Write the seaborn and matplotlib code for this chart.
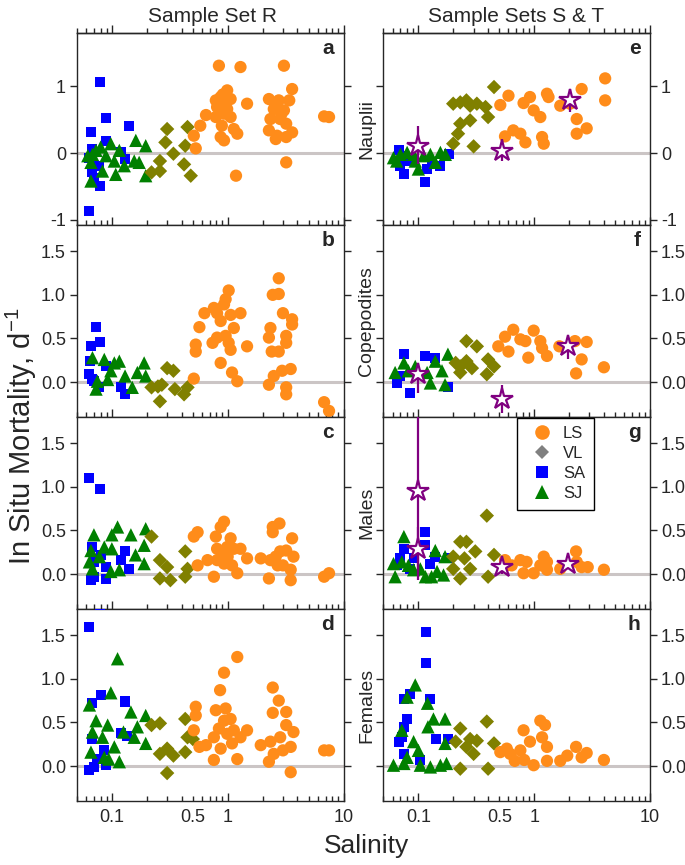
import numpy as np
import pandas
import seaborn
import matplotlib
matplotlib.use('Agg')
from matplotlib import pyplot
from matplotlib.lines import Line2D
from matplotlib.ticker import FixedLocator, FuncFormatter, NullFormatter, LogLocator

# (salinity, in situ mortality d-1), one list per panel and site
a_SA = [(0.079, 1.06), (0.089, 0.53), (0.066, 0.32), (0.141, 0.41), (0.089, 0.18), (0.068, 0.06), (0.064, -0.07),
        (0.12, 0.01), (0.13, -0.09), (0.068, -0.29), (0.07, -0.37), (0.079, -0.49), (0.078, -0.19), (0.064, -0.87)]
a_SJ = [(0.062, -0.04), (0.068, -0.02), (0.073, 0.04), (0.066, -0.14), (0.080, 0.09), (0.098, 0.14), (0.089, -0.04),
        (0.105, -0.12), (0.116, 0.04), (0.083, -0.27), (0.108, -0.32), (0.128, -0.19), (0.161, 0.19), (0.196, 0.11),
        (0.156, -0.12), (0.172, -0.14), (0.196, -0.34), (0.066, -0.42)]
a_VL = [(0.30, 0.36), (0.45, 0.39), (0.29, 0.16), (0.43, 0.11), (0.34, -0.01), (0.26, -0.12), (0.22, -0.29),
        (0.26, -0.27), (0.42, -0.17), (0.48, -0.34)]
a_LS = [(0.53, 0.07), (0.51, 0.26), (0.58, 0.41), (0.65, 0.57), (0.79, 0.54), (0.84, 1.31), (1.29, 1.29), (3.06, 1.31),
        (3.6, 0.96), (0.99, 0.94), (0.87, 0.84), (0.79, 0.79), (1.06, 0.81), (0.81, 0.69), (0.99, 0.66), (0.93, 0.59),
        (1.06, 0.54), (0.89, 0.41), (1.13, 0.36), (1.21, 0.29), (0.87, 0.24), (0.93, 0.19), (1.47, 0.74), (2.27, 0.81),
        (2.76, 0.79), (3.4, 0.79), (2.5, 0.66), (3.06, 0.64), (2.34, 0.51), (2.84, 0.51), (3.2, 0.44), (2.27, 0.34),
        (2.67, 0.26), (3.6, 0.31), (3.2, 0.24), (2.6, 0.21), (3.2, -0.14), (1.18, -0.34), (6.8, 0.55), (7.5, 0.54),
        (0.91, 0.88), (0.95, 0.76), (0.85, 0.72), (2.6, 0.72), (2.9, 0.58)]

b_SA = [(0.073, 0.63), (0.066, 0.41), (0.079, 0.46), (0.089, 0.18), (0.12, -0.06), (0.13, -0.14), (0.078, -0.06),
        (0.064, 0.09), (0.07, 0.01), (0.065, 0.24), (0.068, 0.04)]
b_SJ = [(0.068, 0.28), (0.086, 0.26), (0.105, 0.22), (0.116, 0.24), (0.098, 0.13), (0.15, -0.06), (0.19, 0.22),
        (0.196, 0.07), (0.166, 0.11), (0.13, 0.07), (0.075, 0.01), (0.092, 0.03), (0.073, -0.08)]
b_VL = [(0.30, 0.16), (0.34, 0.13), (0.27, -0.03), (0.25, -0.05), (0.22, -0.06), (0.45, -0.06), (0.42, -0.14),
        (0.26, -0.22), (0.35, -0.08)]
b_LS = [(0.51, 0.04), (0.53, 0.43), (0.53, 0.35), (0.57, 0.63), (0.63, 0.79), (0.76, 0.85), (0.81, 0.79), (0.87, 0.70),
        (0.93, 0.89), (0.96, 0.95), (1.02, 1.05), (1.06, 0.77), (1.29, 0.79), (0.74, 0.45), (0.81, 0.51), (0.96, 0.53),
        (1.13, 0.62), (1.02, 0.45), (1.06, 0.37), (0.87, 0.22), (1.09, 0.11), (1.21, 0.01), (1.47, 0.41), (2.45, 1.0),
        (2.76, 1.01), (2.76, 1.19), (3.0, 0.79), (3.6, 0.72), (3.6, 0.66), (2.34, 0.62), (2.27, 0.51), (3.2, 0.53),
        (3.2, 0.45), (2.4, 0.35), (2.76, 0.35), (3.5, 0.15), (2.95, 0.13), (2.5, 0.07), (2.27, -0.03), (3.2, -0.06),
        (3.2, -0.14), (6.8, -0.23), (7.5, -0.33)]

c_SA = [(0.064, 1.10), (0.079, 0.98), (0.068, 0.31), (0.08, 0.22), (0.07, 0.14), (0.089, 0.08), (0.13, 0.26),
        (0.12, 0.16), (0.141, 0.06), (0.066, -0.07), (0.089, -0.06), (0.07, -0.03)]
c_SJ = [(0.07, 0.45), (0.066, 0.27), (0.064, 0.14), (0.068, 0.06), (0.086, 0.31), (0.10, 0.29), (0.112, 0.54),
        (0.10, 0.45), (0.146, 0.45), (0.196, 0.52), (0.19, 0.33), (0.16, 0.22), (0.19, 0.12), (0.098, 0.03),
        (0.116, 0.05), (0.078, 0.20)]
c_VL = [(0.22, 0.43), (0.26, 0.16), (0.30, 0.08), (0.26, -0.05), (0.32, -0.07), (0.43, 0.26), (0.45, 0.06),
        (0.43, -0.03)]
c_LS = [(0.51, 0.43), (0.55, 0.48), (0.79, 0.43), (0.87, 0.54), (0.93, 0.60), (1.06, 0.41), (0.81, 0.29), (0.99, 0.31),
        (1.13, 0.29), (1.29, 0.29), (1.47, 0.18), (0.55, 0.10), (0.67, 0.16), (0.81, 0.16), (0.93, 0.12), (1.09, 0.10),
        (0.76, -0.03), (1.21, 0.01), (2.45, 0.54), (2.8, 0.58), (2.45, 0.48), (3.6, 0.41), (1.93, 0.18), (2.34, 0.16),
        (2.84, 0.26), (3.2, 0.27), (3.7, 0.20), (3.0, 0.10), (3.5, 0.05), (2.27, -0.05), (3.5, -0.07), (6.8, -0.03),
        (7.5, 0.01), (0.9, 0.22), (1.0, 0.20), (2.6, 0.20), (2.7, 0.10)]

d_SA = [(0.079, 1.85), (0.064, 1.59), (0.068, 0.72), (0.08, 0.81), (0.13, 0.74), (0.12, 0.38), (0.136, 0.35),
        (0.086, 0.18), (0.068, 0.31), (0.064, -0.05), (0.07, -0.01), (0.089, 0.01), (0.075, 0.08)]
d_SJ = [(0.112, 1.23), (0.098, 0.84), (0.064, 0.70), (0.073, 0.52), (0.068, 0.39), (0.092, 0.47), (0.083, 0.33),
        (0.146, 0.62), (0.196, 0.58), (0.166, 0.45), (0.156, 0.33), (0.196, 0.26), (0.126, 0.39), (0.105, 0.22),
        (0.066, 0.16), (0.094, 0.08), (0.116, 0.05), (0.086, 0.10)]
d_VL = [(0.22, 0.47), (0.26, 0.49), (0.26, 0.14), (0.30, 0.20), (0.34, 0.12), (0.30, -0.08), (0.43, 0.54),
        (0.45, 0.33), (0.43, 0.16), (0.50, 0.31)]
d_LS = [(0.51, 0.41), (0.53, 0.68), (0.53, 0.58), (0.57, 0.22), (0.65, 0.24), (0.76, 0.07), (0.79, 0.64), (0.86, 0.87),
        (0.93, 1.07), (1.21, 1.25), (0.96, 0.66), (1.06, 0.54), (0.76, 0.33), (0.84, 0.43), (0.93, 0.52), (0.99, 0.37),
        (1.09, 0.26), (0.87, 0.20), (1.21, 0.08), (1.29, 0.33), (1.47, 0.41), (1.13, 0.41), (2.45, 0.90), (2.76, 0.75),
        (2.45, 0.61), (3.2, 0.62), (1.93, 0.24), (2.34, 0.28), (2.5, 0.14), (2.27, 0.05), (2.84, 0.33), (3.2, 0.47),
        (3.7, 0.39), (3.5, 0.22), (3.0, 0.18), (3.5, -0.07), (6.8, 0.18), (7.5, 0.18)]

e_SA = [(0.068, 0.04), (0.075, -0.04), (0.075, -0.32), (0.085, -0.12), (0.115, -0.44), (0.119, -0.24), (0.131, -0.14),
        (0.155, -0.19), (0.183, -0.02), (0.070, -0.19)]
e_SJ = [(0.061, -0.07), (0.070, -0.02), (0.080, 0.01), (0.091, -0.02), (0.10, -0.24), (0.111, -0.04), (0.127, -0.02),
        (0.14, -0.14), (0.155, 0.01), (0.171, -0.02), (0.094, -0.12), (0.065, -0.12)]
e_VL = [(0.45, 0.99), (0.20, 0.74), (0.23, 0.76), (0.26, 0.79), (0.28, 0.71), (0.32, 0.74), (0.38, 0.69), (0.40, 0.54),
        (0.28, 0.49), (0.23, 0.44), (0.22, 0.29), (0.20, 0.14), (0.30, 0.10)]
e_LS = [(0.51, 0.72), (0.60, 0.86), (0.81, 0.75), (0.92, 0.84), (0.99, 0.64), (1.13, 0.54), (1.29, 0.89), (1.33, 0.84),
        (1.68, 0.71), (2.04, 0.74), (2.57, 0.96), (4.1, 1.12), (4.1, 0.79), (2.33, 0.51), (2.33, 0.29), (2.84, 0.37),
        (0.56, 0.25), (0.66, 0.34), (0.76, 0.29), (0.84, 0.16), (1.17, 0.24), (1.21, 0.14)]

f_SA = [(0.075, 0.32), (0.115, 0.30), (0.14, 0.28), (0.065, -0.01), (0.085, -0.13), (0.18, -0.06), (0.07, 0.07)]
f_SJ = [(0.063, 0.11), (0.075, 0.22), (0.082, 0.13), (0.094, 0.18), (0.119, 0.11), (0.14, 0.24), (0.18, 0.32),
        (0.16, 0.13), (0.127, -0.01), (0.17, -0.03)]
f_VL = [(0.26, 0.47), (0.32, 0.41), (0.21, 0.22), (0.23, 0.18), (0.26, 0.24), (0.29, 0.16), (0.23, 0.11), (0.40, 0.26),
        (0.45, 0.18), (0.39, 0.09)]
f_LS = [(0.49, 0.41), (0.56, 0.52), (0.60, 0.35), (0.66, 0.60), (0.76, 0.49), (0.84, 0.47), (0.99, 0.59), (0.89, 0.28),
        (1.13, 0.47), (1.17, 0.39), (1.29, 0.30), (2.25, 0.47), (2.84, 0.46), (2.57, 0.26), (2.3, 0.10), (4.0, 0.17),
        (1.65, 0.41)]

g_SA = [(0.115, 0.48), (0.075, 0.29), (0.115, 0.33), (0.07, 0.18), (0.091, 0.18), (0.14, 0.20), (0.18, 0.18),
        (0.127, 0.12), (0.065, 0.10), (0.085, 0.06)]
g_SJ = [(0.075, 0.43), (0.061, 0.12), (0.072, 0.14), (0.082, 0.10), (0.091, 0.05), (0.063, -0.03), (0.115, -0.03),
        (0.13, -0.03), (0.14, 0.27), (0.145, 0.03), (0.17, 0.20), (0.165, -0.01), (0.104, 0.06)]
g_VL = [(0.39, 0.67), (0.23, 0.37), (0.26, 0.37), (0.31, 0.26), (0.20, 0.20), (0.25, 0.18), (0.45, 0.22), (0.28, 0.06),
        (0.20, 0.06), (0.23, -0.05), (0.40, -0.03)]
g_LS = [(0.56, 0.16), (0.64, 0.10), (0.76, 0.16), (0.86, 0.14), (0.81, 0.01), (0.99, 0.01), (1.13, 0.10), (1.21, 0.20),
        (1.29, 0.14), (1.29, 0.05), (1.68, 0.06), (2.3, 0.26), (2.33, 0.14), (2.57, 0.08), (2.9, 0.08), (4.0, 0.05),
        (0.58, 0.10)]

h_SA = [(0.117, 1.54), (0.116, 1.18), (0.075, 0.77), (0.085, 0.83), (0.127, 0.77), (0.08, 0.54), (0.075, 0.45),
        (0.072, 0.33), (0.068, 0.28), (0.143, 0.31), (0.18, 0.31), (0.104, 0.07), (0.075, 0.14)]
h_SJ = [(0.094, 0.93), (0.08, 0.79), (0.12, 0.72), (0.135, 0.54), (0.17, 0.54), (0.121, 0.45), (0.072, 0.41),
        (0.091, 0.28), (0.1, 0.18), (0.08, 0.10), (0.061, 0.01), (0.075, 0.03), (0.104, 0.01), (0.127, -0.01),
        (0.155, 0.01), (0.175, 0.03), (0.17, 0.26)]
h_VL = [(0.23, 0.43), (0.28, 0.31), (0.32, 0.29), (0.21, 0.28), (0.30, 0.14), (0.23, -0.03), (0.39, 0.51), (0.45, 0.26),
        (0.40, -0.03), (0.26, 0.22)]
h_LS = [(0.51, 0.16), (0.58, 0.20), (0.62, 0.14), (0.68, 0.06), (0.76, 0.18), (0.81, 0.41), (0.82, 0.07), (0.92, 0.28),
        (0.99, 0.01), (1.13, 0.52), (1.24, 0.47), (1.17, 0.33), (1.29, 0.22), (1.29, 0.06), (1.68, 0.06), (1.93, 0.12),
        (2.3, 0.22), (2.57, 0.10), (2.84, 0.15), (4.0, 0.07)]

# Sample sets S & T means (stars) with lower / upper error
e_ST = {'x': [0.1, 0.53, 2.02], 'y': [0.10, 0.03, 0.80], 'lo': [0.26, 0.15, 0.19], 'hi': [0.30, 0.18, 0.16]}
f_ST = {'x': [0.1, 0.53, 1.95], 'y': [0.09, -0.19, 0.41], 'lo': [0.22, 0.16, 0.14], 'hi': [0.10, 0.16, 0.10]}
g_ST = {'x': [0.1, 0.1, 0.53, 1.95], 'y': [0.95, 0.29, 0.08, 0.12], 'lo': [1.02, 0.25, 0.08, 0.06], 'hi': [1.05, 0.25, 0.06, 0.06]}

SITES = ['SA', 'SJ', 'VL', 'LS']
COLORS = {'LS': '#ff8c1a', 'VL': '#808000', 'SA': '#0000ff', 'SJ': '#008000'}
MARKERS = {'LS': 'o', 'VL': 'D', 'SA': 's', 'SJ': '^'}
SIZES = {'LS': 78, 'VL': 54, 'SA': 52, 'SJ': 92}

panels = [
    ('a', (a_SA, a_SJ, a_VL, a_LS), None, None),
    ('e', (e_SA, e_SJ, e_VL, e_LS), e_ST, 'Nauplii'),
    ('b', (b_SA, b_SJ, b_VL, b_LS), None, None),
    ('f', (f_SA, f_SJ, f_VL, f_LS), f_ST, 'Copepodites'),
    ('c', (c_SA, c_SJ, c_VL, c_LS), None, None),
    ('g', (g_SA, g_SJ, g_VL, g_LS), g_ST, 'Males'),
    ('d', (d_SA, d_SJ, d_VL, d_LS), None, None),
    ('h', (h_SA, h_SJ, h_VL, h_LS), None, 'Females'),
]


def panel_frame(groups):
    rows = []
    for site, points in zip(SITES, groups):
        rows += [(x, y, site) for x, y in points]
    return pandas.DataFrame(rows, columns=['salinity', 'mortality', 'site'])


def salinity_label(value, pos):
    return f'{value:g}' if abs(value - 0.5) < 1e-6 or value in (0.1, 1, 10) else ''


seaborn.set_style('ticks')
pyplot.rcParams['font.family'] = ['Liberation Sans', 'DejaVu Sans']
pyplot.rcParams['mathtext.fontset'] = 'custom'
pyplot.rcParams['mathtext.rm'] = 'Liberation Sans'
pyplot.rcParams['axes.unicode_minus'] = False
pyplot.rcParams['axes.linewidth'] = 1.0

fig, axes = pyplot.subplots(4, 2, figsize=(6.85, 8.65), dpi=100)
fig.subplots_adjust(left=0.1124, right=0.9489, top=0.9618, bottom=0.074, hspace=0, wspace=0.15)

for idx, (letter, groups, stars, row_label) in enumerate(panels):
    row, col = divmod(idx, 2)
    ax = axes[row, col]
    data_frame = panel_frame(groups)
    ax.axhline(0, color='#cbc5c5', lw=2.2, zorder=1)
    seaborn.scatterplot(data=data_frame, x='salinity', y='mortality', hue='site', style='site', size='site',
                        palette=COLORS, markers=MARKERS, sizes=SIZES, linewidth=0, alpha=1, legend=False, ax=ax, zorder=3)
    if stars is not None:
        ax.errorbar(stars['x'], stars['y'], yerr=[stars['lo'], stars['hi']], fmt='*', ms=16, mfc='white',
                    mec='#800080', mew=1.6, ecolor='#800080', elinewidth=1.6, capsize=0, zorder=4)

    ax.set_xscale('log')
    ax.set_xlim(0.05, 10)
    if row == 0:
        ax.set_ylim(-1.08, 1.8)
        ax.set_yticks([-1, 0, 1])
        ax.yaxis.set_major_formatter(FuncFormatter(lambda v, p: f'{v:.0f}'))
    else:
        ax.set_ylim(-0.4, 1.8)
        ax.set_yticks([0, 0.5, 1.0, 1.5])
        ax.yaxis.set_major_formatter(FuncFormatter(lambda v, p: f'{v:.1f}'))

    ax.xaxis.set_major_locator(FixedLocator([0.1, 1, 10]))
    ax.xaxis.set_minor_locator(LogLocator(base=10, subs=np.arange(2, 10) * 1.0, numticks=20))
    ax.xaxis.set_major_formatter(FuncFormatter(salinity_label))
    ax.xaxis.set_minor_formatter(FuncFormatter(salinity_label))
    ax.tick_params(axis='x', which='major', direction='in', length=6, width=1, labelsize=13, pad=6,
                   bottom=True, top=False, labelbottom=(row == 3))
    ax.tick_params(axis='x', which='minor', direction='in', length=3.5, width=1, labelsize=13, pad=6,
                   bottom=True, top=False, labelbottom=(row == 3))
    ax.tick_params(axis='y', direction='out', length=5, width=1, labelsize=13, left=True, right=True,
                   labelleft=(col == 0), labelright=(col == 1), pad=3)
    if row == 0:
        top = ax.secondary_xaxis('top')
        top.xaxis.set_major_locator(FixedLocator([0.1, 1, 10]))
        top.xaxis.set_minor_locator(LogLocator(base=10, subs=np.arange(2, 10) * 1.0, numticks=20))
        top.xaxis.set_major_formatter(NullFormatter())
        top.xaxis.set_minor_formatter(NullFormatter())
        top.tick_params(axis='x', which='major', direction='out', length=6, width=1)
        top.tick_params(axis='x', which='minor', direction='out', length=3.5, width=1)

    ax.set_xlabel('')
    if row_label:
        ax.set_ylabel(row_label, fontsize=14, labelpad=1)
    else:
        ax.set_ylabel('')
    ax.text(0.965, 0.92, letter, transform=ax.transAxes, ha='right', va='center', fontsize=15, fontweight='bold')

legend_handles = [
    Line2D([], [], ls='none', marker='o', markersize=10.5, color=COLORS['LS'], mew=0, label='LS'),
    Line2D([], [], ls='none', marker='D', markersize=7.5, color='#808080', mew=0, label='VL'),
    Line2D([], [], ls='none', marker='s', markersize=8, color=COLORS['SA'], mew=0, label='SA'),
    Line2D([], [], ls='none', marker='^', markersize=10.5, color=COLORS['SJ'], mew=0, label='SJ'),
]
axes[2, 1].legend(handles=legend_handles, loc='upper left', bbox_to_anchor=(0.502, 0.995), borderaxespad=0,
                  fontsize=12, frameon=True, fancybox=False, edgecolor='black', framealpha=1,
                  handletextpad=0.25, labelspacing=0.3, borderpad=0.5, handlelength=2.0)

fig.text(0.31, 1 - 17 / 865, 'Sample Set R', ha='center', va='center', fontsize=15)
fig.text(0.754, 1 - 17 / 865, 'Sample Sets S & T', ha='center', va='center', fontsize=15)
fig.text(0.535, 1 - 846 / 865, 'Salinity', ha='center', va='center', fontsize=19)
fig.text(0.031, 1 - 436 / 865, 'In Situ Mortality, d$^{-1}$', ha='center', va='center', rotation=90, fontsize=21)

fig.savefig('out.png', dpi=100)
